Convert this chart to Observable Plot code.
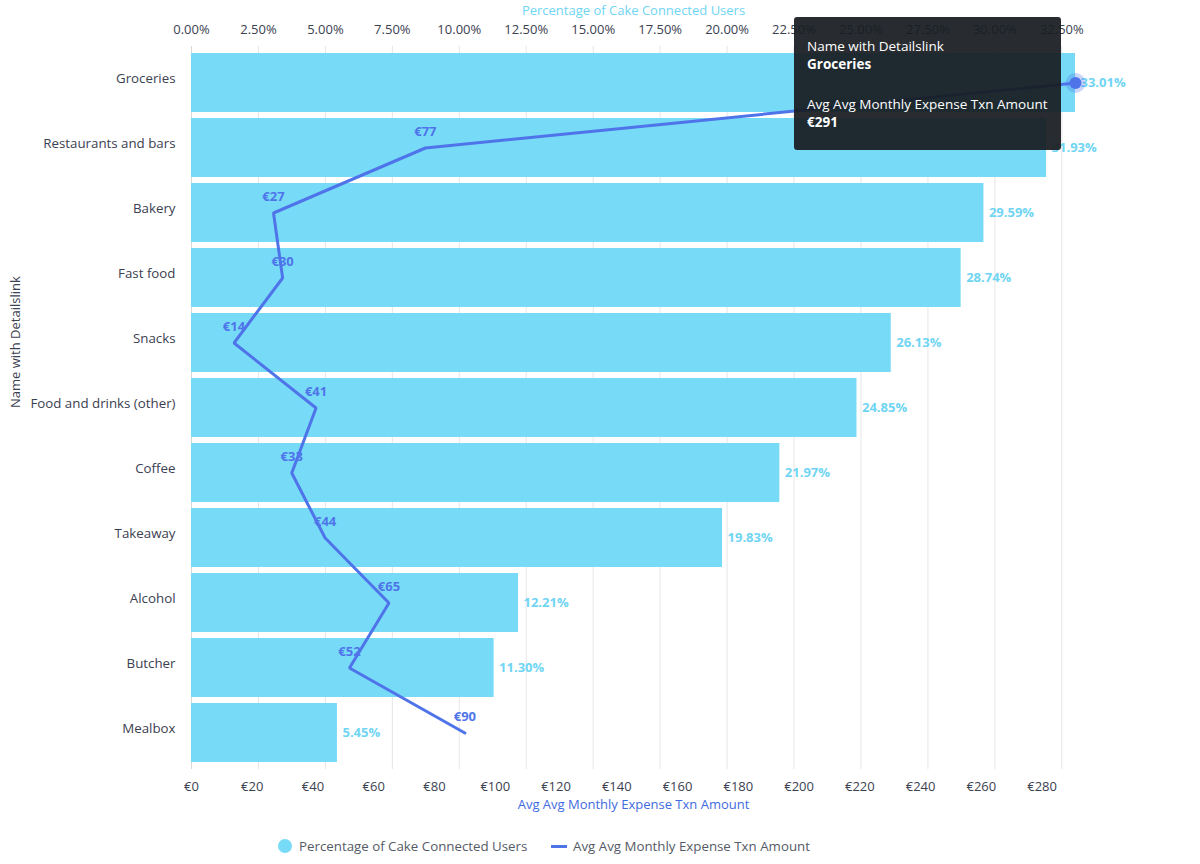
<!DOCTYPE html>
<html>
<head>
<meta charset="utf-8">
<script src="https://cdn.jsdelivr.net/npm/d3@7"></script>
<script src="https://cdn.jsdelivr.net/npm/@observablehq/plot@0.6"></script>
<style>
  html, body { margin: 0; padding: 0; background: #fff; }
  body { font-family: "Open Sans", sans-serif; }
  #wrap { position: relative; width: 1200px; height: 864px; }
  #chart, #overlay { position: absolute; left: 0; top: 0; }
  #overlay { pointer-events: none; }
  #tooltip {
    position: absolute; left: 794px; top: 17px; width: 267px; height: 133px;
    background: rgba(24,28,32,0.93); border-radius: 3px; color: #fff;
    font-family: "Open Sans", sans-serif; font-size: 13.5px; line-height: 18px;
    box-sizing: border-box; padding: 20px 13px;
  }
  #tooltip b { font-weight: 700; }
  #tooltip .gap { height: 22px; }
  #legend {
    position: absolute; left: 0; top: 835px; width: 1200px; height: 22px;
    font-family: "Open Sans", sans-serif; font-size: 13.3px; color: #555b66;
  }
  #legend .item { position: absolute; top: 0; display: flex; align-items: center; height: 22px; }
  #legend .dot { width: 14px; height: 14px; border-radius: 50%; background: #77dbf7; margin-right: 7px; }
  #legend .line { width: 16px; height: 3px; background: #4f74ea; margin-right: 6px; }
</style>
</head>
<body>
<div id="wrap">
  <div id="chart"></div>
  <div id="tooltip">Name with Detailslink<br><b>Groceries</b><div class="gap"></div>Avg Avg Monthly Expense Txn Amount<br><b>€291</b></div>
  <div id="overlay"></div>
  <div id="legend">
    <div class="item" style="left:278px"><div class="dot"></div>Percentage of Cake Connected Users</div>
    <div class="item" style="left:551px"><div class="line"></div>Avg Avg Monthly Expense Txn Amount</div>
  </div>
</div>
<script>
const categories = ["Groceries", "Restaurants and bars", "Bakery", "Fast food", "Snacks",
  "Food and drinks (other)", "Coffee", "Takeaway", "Alcohol", "Butcher", "Mealbox"];
const pctUsers = [33.01, 31.93, 29.59, 28.74, 26.13, 24.85, 21.97, 19.83, 12.21, 11.30, 5.45];
const avgExpense = [291, 77, 27, 30, 14, 41, 33, 44, 65, 52, 90];
const pctTicks = [0, 2.5, 5, 7.5, 10, 12.5, 15, 17.5, 20, 22.5, 25, 27.5, 30, 32.5];
const euroTicks = [0, 20, 40, 60, 80, 100, 120, 140, 160, 180, 200, 220, 240, 260, 280];
const highlighted = "Groceries";

const barColor = "#77dbf7";
const labelCyan = "#6fd5f3";
const lineColor = "#4f74ea";
const axisText = "#3b4151";

const data = categories.map((name, i) => ({name, pct: pctUsers[i], exp: avgExpense[i]}));
const hi = data.filter(d => d.name === highlighted);
const rest = data.filter(d => d.name !== highlighted);

// secondary (euro) axis mapped onto the shared x range
const pctMax = d3.max(pctUsers);
const eurMax = d3.max(avgExpense);
const eur = d3.scaleLinear().domain([0, eurMax]).range([0, pctMax]);

const frame = {
  width: 1200,
  height: 824,
  marginLeft: 191,
  marginRight: 125,
  marginTop: 46,
  marginBottom: 55,
  x: {domain: [0, pctMax], axis: null},
  y: {type: "band", domain: categories, padding: 0.1, axis: null}
};

const chart = Plot.plot({
  ...frame,
  style: {fontFamily: "Open Sans, sans-serif", fontSize: "13px", color: axisText, background: "#fff"},
  marks: [
    Plot.ruleX(pctTicks, {stroke: "#e6e6e6", strokeWidth: 1}),
    Plot.ruleX([0], {stroke: "#d8d8d8", strokeWidth: 1}),
    Plot.barX(data, {x: "pct", y: "name", fill: barColor}),
    Plot.text(data, {x: "pct", y: "name", text: d => d.pct.toFixed(2) + "%", textAnchor: "start", dx: 5, fill: labelCyan, fontWeight: 700, fontSize: 13}),
    Plot.line(data, {x: d => eur(d.exp), y: "name", stroke: lineColor, strokeWidth: 3, strokeLinejoin: "miter"}),
    Plot.text(rest, {x: d => eur(d.exp), y: "name", text: d => "€" + d.exp, dy: -16, fill: lineColor, fontWeight: 700, fontSize: 13}),
    Plot.axisX(pctTicks, {anchor: "top", tickSize: 0, tickPadding: 13, tickFormat: d => d.toFixed(2) + "%", fill: axisText, fontSize: 13, label: null}),
    Plot.axisX(euroTicks.map(e => eur(e)), {anchor: "bottom", tickSize: 0, tickPadding: 12, tickFormat: d => "€" + Math.round(eur.invert(d)), fill: axisText, fontSize: 13, label: null}),
    Plot.axisY({tickSize: 0, tickPadding: 16, fontSize: 13.3, fill: axisText, dy: -4, label: null}),
    Plot.text(["Percentage of Cake Connected Users"], {frameAnchor: "top", dy: -41, fill: labelCyan, fontSize: 13}),
    Plot.text(["Avg Avg Monthly Expense Txn Amount"], {frameAnchor: "bottom", dy: 39, fill: "#3f6be0", fontSize: 13}),
    Plot.text(["Name with Detailslink"], {frameAnchor: "left", dx: -176, rotate: -90, fill: axisText, fontSize: 13})
  ]
});
document.getElementById("chart").appendChild(chart);

// highlighted point drawn above the tooltip
const overlay = Plot.plot({
  ...frame,
  style: {background: "transparent"},
  marks: [
    Plot.dot(hi, {x: d => eur(d.exp), y: "name", r: 10, fill: lineColor, fillOpacity: 0.3}),
    Plot.dot(hi, {x: d => eur(d.exp), y: "name", r: 6, fill: lineColor})
  ]
});
document.getElementById("overlay").appendChild(overlay);
</script>
</body>
</html>
